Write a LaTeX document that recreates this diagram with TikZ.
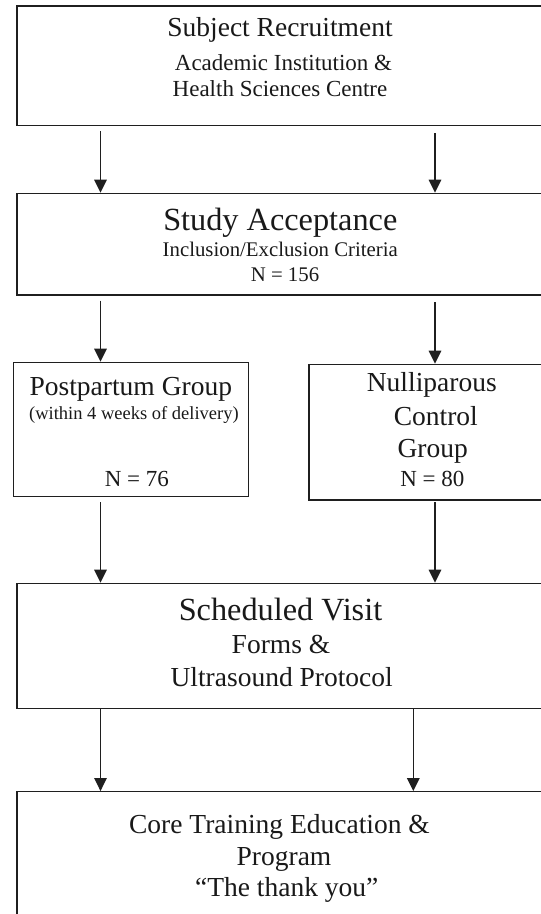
\documentclass[tikz,border=0pt]{standalone}
\usepackage{fontspec}
\setmainfont{Liberation Serif}
\usetikzlibrary{arrows.meta}
\tikzset{
 box/.style={draw=black!88, line width=1.3pt, rectangle, inner sep=0pt},
 arr/.style={draw=black!88, line width=1.5pt, -{Triangle[length=13pt,width=12.5pt]}},
 tx/.style={anchor=base, inner sep=0pt, text=black!90},
 bigt/.style={tx, font=\fontsize{27.5}{33}\selectfont},
 huget/.style={tx, font=\fontsize{32.3}{38}\selectfont},
 midt/.style={tx, font=\fontsize{23}{27}\selectfont},
 smt/.style={tx, font=\fontsize{20.8}{25}\selectfont},
 xst/.style={tx, font=\fontsize{18.5}{22}\selectfont},
}
\begin{document}
\begin{tikzpicture}[x=1pt,y=-1pt]
\useasboundingbox (0,0) rectangle (541,914);
% boxes
\node[box, minimum width=528pt, minimum height=119.7pt] (b1) at (281,65.85) {};
\node[box, minimum width=528pt, minimum height=101.7pt] (b2) at (281,244.15) {};
\node[box, minimum width=234.5pt, minimum height=134.4pt] (b3) at (131.05,429.5) {};
\node[box, minimum width=236pt, minimum height=135.7pt] (b4) at (427,432.15) {};
\node[box, minimum width=528pt, minimum height=125pt] (b5) at (281,645.8) {};
\node[box, minimum width=528pt, minimum height=138.3pt] (b6) at (281,860.85) {};
% x positions of connectors
\coordinate (xL) at (100.5,0);
\coordinate (xR) at (435,0);
\coordinate (xS) at (413.3,0);
% connectors
\draw[arr] ([yshift=-5pt]b1.south -| xL) -- (b2.north -| xL);
\draw[arr] ([yshift=-7pt]b1.south -| xR) -- (b2.north -| xR);
\draw[arr] ([yshift=-5pt]b2.south -| xL) -- (b3.north -| xL);
\draw[arr] ([yshift=-6.7pt]b2.south -| xR) -- (b4.north -| xR);
\draw[arr] ([yshift=-5pt]b3.south -| xL) -- (b5.north -| xL);
\draw[arr] ([yshift=-1.7pt]b4.south -| xR) -- (b5.north -| xR);
\draw[arr] (b5.south -| xL) -- (b6.north -| xL);
\draw[arr] (b5.south -| xS) -- (b6.north -| xS);
% texts
\node[bigt] (t1) at (280,36.7) {Subject Recruitment};
\node[midt] (t1a) at (283.5,70) {Academic Institution \&};
\node[midt] (t1b) at (280,96.7) {Health Sciences Centre};
\node[huget] (t2) at (280.3,230.7) {Study Acceptance};
\node[smt] (t2a) at (280.3,256.7) {Inclusion/Exclusion Criteria};
\node[smt] (t2b) at (285,281) {N = 156};
\node[bigt] (t3) at (130.8,395) {Postpartum Group};
\node[xst] (t3a) at (133.9,419) {(within 4 weeks of delivery)};
\node[midt] (t3b) at (136.9,486.7) {N = 76};
\node[bigt] (t4) at (431.8,391.7) {Nulliparous};
\node[bigt] (t4a) at (435.8,425.7) {Control};
\node[bigt] (t4b) at (432.7,457.3) {Group};
\node[midt] (t4c) at (432.3,486.7) {N = 80};
\node[huget] (t5) at (280.5,620) {Scheduled Visit};
\node[bigt] (t5a) at (281,653.3) {Forms \&};
\node[bigt] (t5b) at (281.7,686) {Ultrasound Protocol};
\node[bigt] (t6) at (279.5,833.3) {Core Training Education \&};
\node[bigt] (t6a) at (284,865) {Program};
\node[bigt] (t6b) at (286.7,896.7) {“The thank you”};
\end{tikzpicture}
\end{document}
